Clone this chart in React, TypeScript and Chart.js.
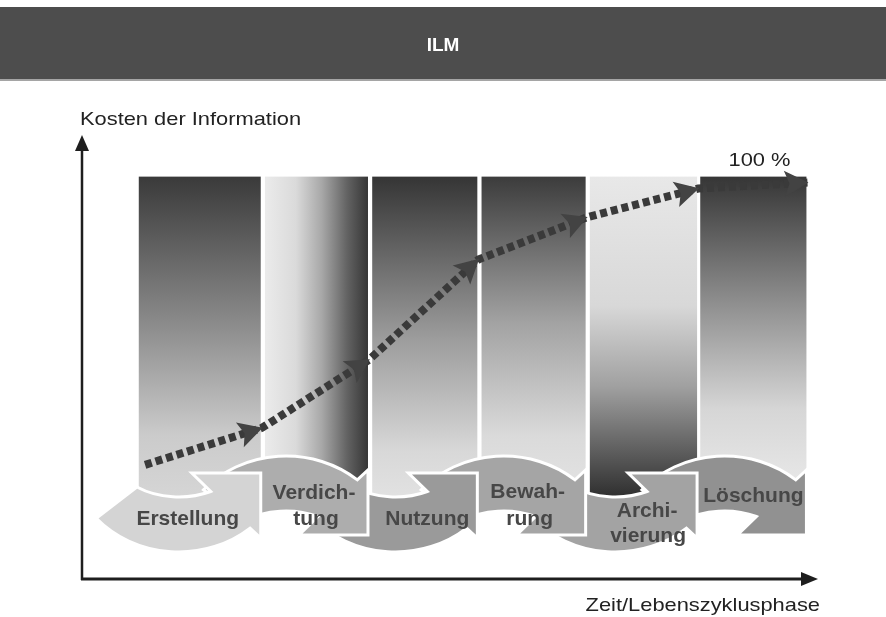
import React, { useEffect, useRef } from 'react';
import { Chart, registerables } from 'chart.js';

Chart.register(...registerables);

// ---------------- data ----------------
const headerTitle = 'ILM';
const yAxisTitle = 'Kosten der Information';
const xAxisTitle = 'Zeit/Lebenszyklusphase';
const maxLabel = '100 %';

const phaseNames = ['Erstellung', 'Verdichtung', 'Nutzung', 'Bewahrung', 'Archivierung', 'Löschung'];
const phaseLabelLines = [['Erstellung'], ['Verdich-', 'tung'], ['Nutzung'], ['Bewah-', 'rung'], ['Archi-', 'vierung'], ['Löschung']];
// phase extent on the time axis (phase units)
const phaseStart = [0.54, 1.74, 2.76, 3.8, 4.83, 5.88];
const phaseEnd = [1.7, 2.72, 3.76, 4.79, 5.85, 6.89];
// vertical extent of the phase columns (cost %)
const phaseTop = [101.5, 101.5, 101.5, 101.5, 101.5, 101.5];
const phaseBottom = [20, 20, 20, 20, 20, 20];
// cost-of-information curve
const costTime = [0.6, 1.71, 2.73, 3.77, 4.8, 5.86, 6.9];
const costValue = [28.8, 38.1, 55.3, 80.6, 91.2, 98.5, 100];

// ---------------- styles ----------------
const FONT = '"Liberation Sans", Arial, Helvetica, sans-serif';
const TEXT_STRETCH = 1.15;

type Stop = [number, string];
const columnShades: { dir: 'v' | 'h'; stops: Stop[] }[] = [
  { dir: 'v', stops: [[0, '#3a3a3a'], [0.45, '#8a8a8a'], [0.8, '#cbcbcb'], [1, '#d6d6d6']] },
  { dir: 'h', stops: [[0, '#ebebeb'], [0.3, '#dadada'], [0.55, '#a8a8a8'], [0.8, '#626262'], [1, '#363636']] },
  { dir: 'v', stops: [[0, '#353535'], [0.5, '#9c9c9c'], [0.85, '#d8d8d8'], [1, '#e2e2e2']] },
  { dir: 'v', stops: [[0, '#3c3c3c'], [0.45, '#a2a2a2'], [0.8, '#dadada'], [1, '#e4e4e4']] },
  { dir: 'v', stops: [[0, '#e8e8e8'], [0.4, '#d8d8d8'], [0.65, '#a0a0a0'], [1, '#2c2c2c']] },
  { dir: 'v', stops: [[0, '#363636'], [0.38, '#8c8c8c'], [0.72, '#d6d6d6'], [1, '#ebebeb']] },
];
const cycleColors = ['#d4d4d4', '#adadad', '#9a9a9a', '#a5a5a5', '#a3a3a3', '#919191'];
// label anchor offsets relative to right edge of the phase / x-axis (px)
const labelOffsets: [number, number][][] = [
  [[-73, -54]],
  [[-54, -80], [-52, -54]],
  [[-50, -54]],
  [[-58, -81], [-56, -54]],
  [[-50, -62], [-49, -37]],
  [[-53, -77]],
];

function drawStretchedText(ctx: CanvasRenderingContext2D, text: string, x: number, y: number, align: CanvasTextAlign, font: string, color: string, sx: number) {
  ctx.save();
  ctx.font = font;
  ctx.fillStyle = color;
  ctx.textAlign = align;
  ctx.textBaseline = 'alphabetic';
  ctx.translate(x, y);
  ctx.scale(sx, 1);
  ctx.fillText(text, 0, 0);
  ctx.restore();
}

// U-shaped cycle arrow (head pointing up-right), right edge R, ellipse centre cy
function uArrowPath(ctx: CanvasRenderingContext2D, R: number, cy: number) {
  const d = Math.PI / 180;
  const cx = R - 82;
  const rxo = 111, ryo = 102, rxi = 68, ryi = 47;
  ctx.moveTo(cx + rxo * Math.cos(138 * d), cy + ryo * Math.sin(138 * d));
  ctx.ellipse(cx, cy, rxo, ryo, 0, 138 * d, 50 * d, true);
  ctx.lineTo(R, cy + 88);
  ctx.lineTo(R, cy + 23);
  ctx.lineTo(R - 69, cy + 23);
  ctx.lineTo(cx + rxi * Math.cos(62 * d), cy + ryi * Math.sin(62 * d));
  ctx.ellipse(cx, cy, rxi, ryi, 0, 62 * d, 128 * d, false);
  ctx.closePath();
}

const diagramPlugin = {
  id: 'ilmDiagram',
  beforeDraw(chart: any) {
    const ctx: CanvasRenderingContext2D = chart.ctx;
    const W = chart.width;
    ctx.save();
    ctx.fillStyle = '#ffffff';
    ctx.fillRect(0, 0, W, chart.height);
    ctx.fillStyle = '#4d4d4d';
    ctx.fillRect(0, 7, W, 73);
    ctx.fillStyle = '#a5a5a5';
    ctx.fillRect(0, 79, W, 2);
    drawStretchedText(ctx, headerTitle, W / 2, 51, 'center', `bold 19px ${FONT}`, '#ffffff', 1);
    ctx.restore();
  },
  beforeDatasetsDraw(chart: any) {
    const ctx: CanvasRenderingContext2D = chart.ctx;
    const xs = chart.scales.x;
    const ys = chart.scales.y;
    const area = chart.chartArea;
    ctx.save();
    // phase columns
    phaseNames.forEach((_, i) => {
      const x0 = xs.getPixelForValue(phaseStart[i]);
      const x1 = xs.getPixelForValue(phaseEnd[i]);
      const y0 = ys.getPixelForValue(phaseTop[i]);
      const y1 = ys.getPixelForValue(phaseBottom[i]);
      const sh = columnShades[i];
      const g = sh.dir === 'v' ? ctx.createLinearGradient(0, y0, 0, y1) : ctx.createLinearGradient(x0, 0, x1, 0);
      sh.stops.forEach(([o, c]) => g.addColorStop(o, c));
      ctx.fillStyle = g;
      ctx.fillRect(x0, y0, x1 - x0, y1 - y0);
    });
    // cycle arrows, right to left so that each head covers the next tail
    const cy = area.bottom - 129;
    const mirrorY = area.bottom - 75;
    for (let i = phaseNames.length - 1; i >= 0; i--) {
      const R = xs.getPixelForValue(phaseEnd[i]);
      ctx.save();
      if (i % 2 === 1) {
        ctx.translate(0, 2 * mirrorY);
        ctx.scale(1, -1);
      }
      ctx.beginPath();
      uArrowPath(ctx, R, cy);
      ctx.restore();
      ctx.fillStyle = cycleColors[i];
      ctx.fill();
      ctx.lineWidth = 3;
      ctx.strokeStyle = '#ffffff';
      ctx.lineJoin = 'miter';
      ctx.stroke();
    }
    // phase labels
    phaseNames.forEach((_, i) => {
      const R = xs.getPixelForValue(phaseEnd[i]);
      phaseLabelLines[i].forEach((line, j) => {
        const [dx, dy] = labelOffsets[i][j];
        drawStretchedText(ctx, line, R + dx, area.bottom + dy, 'center', `bold 21px ${FONT}`, '#474747', 1);
      });
    });
    // axes
    ctx.strokeStyle = '#1e1e1e';
    ctx.fillStyle = '#1e1e1e';
    ctx.lineWidth = 2.5;
    ctx.beginPath();
    ctx.moveTo(area.left, area.bottom + 1);
    ctx.lineTo(area.left, area.top + 14);
    ctx.stroke();
    ctx.beginPath();
    ctx.moveTo(area.left, area.top);
    ctx.lineTo(area.left - 7, area.top + 16);
    ctx.lineTo(area.left + 7, area.top + 16);
    ctx.closePath();
    ctx.fill();
    ctx.lineWidth = 3;
    ctx.beginPath();
    ctx.moveTo(area.left - 1, area.bottom);
    ctx.lineTo(area.right - 14, area.bottom);
    ctx.stroke();
    ctx.beginPath();
    ctx.moveTo(area.right, area.bottom);
    ctx.lineTo(area.right - 17, area.bottom - 7);
    ctx.lineTo(area.right - 17, area.bottom + 7);
    ctx.closePath();
    ctx.fill();
    // axis texts
    drawStretchedText(ctx, yAxisTitle, area.left - 2, area.top - 10, 'left', `19px ${FONT}`, '#222222', TEXT_STRETCH);
    drawStretchedText(ctx, xAxisTitle, area.right + 2, area.bottom + 32, 'right', `19px ${FONT}`, '#222222', TEXT_STRETCH);
    const lastX = xs.getPixelForValue(costTime[costTime.length - 1]);
    const lastY = ys.getPixelForValue(costValue[costValue.length - 1]);
    drawStretchedText(ctx, maxLabel, lastX - 17, lastY - 17, 'right', `19px ${FONT}`, '#222222', TEXT_STRETCH);
    ctx.restore();
  },
  afterDatasetsDraw(chart: any) {
    const ctx: CanvasRenderingContext2D = chart.ctx;
    const pts = chart.getDatasetMeta(0).data;
    ctx.save();
    ctx.fillStyle = '#434343';
    for (let i = 1; i < pts.length; i++) {
      const a = pts[i - 1];
      const b = pts[i];
      const ang = Math.atan2(b.y - a.y, b.x - a.x);
      ctx.save();
      ctx.translate(b.x, b.y);
      ctx.rotate(ang);
      ctx.beginPath();
      ctx.moveTo(1, 0);
      ctx.lineTo(-23, -13);
      ctx.lineTo(-18, 0);
      ctx.lineTo(-23, 13);
      ctx.closePath();
      ctx.fill();
      ctx.restore();
    }
    ctx.restore();
  },
};

export default function App() {
  const ref = useRef<HTMLCanvasElement>(null);
  useEffect(() => {
    const canvas = ref.current;
    if (!canvas) return;
    const chart = new Chart(canvas, {
      type: 'line',
      data: {
        datasets: [
          {
            label: yAxisTitle,
            data: costTime.map((t, i) => ({ x: t, y: costValue[i] })),
            borderColor: '#3a3a3a',
            borderWidth: 8,
            borderDash: [7, 4],
            borderCapStyle: 'butt',
            pointRadius: 0,
            fill: false,
            tension: 0,
          },
        ],
      },
      options: {
        animation: false,
        responsive: false,
        maintainAspectRatio: false,
        devicePixelRatio: 1,
        layout: { padding: { left: 82, right: 68, top: 135, bottom: 38 } },
        scales: {
          x: { type: 'linear', min: 0, max: 7, display: false },
          y: { type: 'linear', min: 0, max: 112, display: false },
        },
        plugins: {
          legend: { display: false },
          tooltip: { enabled: false },
          title: { display: false },
        },
      },
      plugins: [diagramPlugin],
    } as any);
    return () => chart.destroy();
  }, []);
  return (
    <div style={{ position: 'fixed', left: 0, top: 0, width: 886, height: 617, background: '#ffffff' }}>
      <canvas ref={ref} width={886} height={617} style={{ display: 'block', width: 886, height: 617 }} />
    </div>
  );
}
